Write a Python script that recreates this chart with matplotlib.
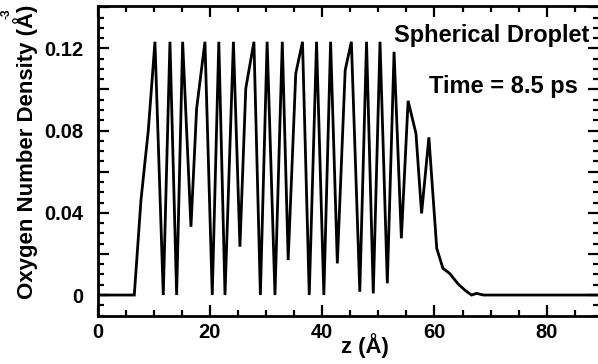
import matplotlib
matplotlib.use("Agg")
import matplotlib.pyplot as plt
from matplotlib.ticker import MultipleLocator, FuncFormatter

plt.rcParams['font.family'] = ['Liberation Sans', 'DejaVu Sans']
plt.rcParams['font.weight'] = 'bold'

z = [0.0, 6.55, 7.74, 9.05, 10.23, 11.71, 12.9, 14.09, 15.16, 16.64, 17.65,
     19.13, 20.43, 21.6, 22.7, 24.2, 25.36, 26.4, 27.85, 29.0, 30.2, 31.6,
     32.9, 33.95, 35.3, 36.5, 37.7, 39.0, 40.3, 41.5, 42.7, 44.1, 45.2,
     46.7, 47.9, 49.1, 50.3, 51.6, 52.8, 54.1, 55.3, 56.7, 57.7, 59.0,
     60.4, 61.5, 62.7, 64.2, 65.4, 66.6, 67.5, 68.7, 90.0]
density = [0.0, 0.0, 0.0462, 0.0803, 0.1232, 0.0, 0.1232, 0.0, 0.1232, 0.0332, 0.0908,
           0.1232, 0.0, 0.1232, 0.0, 0.1232, 0.0235, 0.1005, 0.1232, 0.0, 0.1232, 0.0,
           0.1232, 0.017, 0.1078, 0.1232, 0.0, 0.1232, 0.0, 0.1232, 0.0154, 0.1094, 0.1232,
           0.0016, 0.1232, 0.0008, 0.1232, 0.0057, 0.1183, 0.0276, 0.0945, 0.0786, 0.0397, 0.0767,
           0.0227, 0.013, 0.0105, 0.0054, 0.0024, 0.0, 0.0008, 0.0, 0.0]

xticks = [0, 20, 40, 60, 80]
yticks_labeled = [0, 0.04, 0.08, 0.12]

fig = plt.figure(figsize=(5.98, 3.64), dpi=100)
ax = fig.add_axes([97.5/598, 48/364, 501/598, 310/364])

ax.plot(z, density, color='black', lw=2.0, solid_joinstyle='miter')
ax.set_xlim(0, 89.2)
ax.set_ylim(-0.0102, 0.1406)

ax.set_xticks(xticks)
ax.xaxis.set_minor_locator(MultipleLocator(5))
ax.yaxis.set_major_locator(MultipleLocator(0.02))
ax.yaxis.set_minor_locator(MultipleLocator(0.005))

def yfmt(v, pos):
    for t in yticks_labeled:
        if abs(v - t) < 1e-6:
            return '0' if t == 0 else ('%.2f' % t)
    return ''
ax.yaxis.set_major_formatter(FuncFormatter(yfmt))
ax.xaxis.set_major_formatter(FuncFormatter(lambda v, p: '%d' % v))

ax.tick_params(which='both', direction='in', top=True, right=True, width=1.6,
               labelsize=14.5)
ax.tick_params(axis='x', which='major', pad=5)
ax.tick_params(axis='y', which='major', pad=10)
ax.tick_params(which='major', length=8)
ax.tick_params(which='minor', length=4.5)
for s in ax.spines.values():
    s.set_linewidth(2.0)

ax.text(0.786, 0.905, 'Spherical Droplet', transform=ax.transAxes,
        ha='center', va='center', fontsize=17, fontweight='bold')
ax.text(0.81, 0.74, 'Time = 8.5 ps', transform=ax.transAxes,
        ha='center', va='center', fontsize=17, fontweight='bold')

fig.text(365/598, 1 - 346/364, 'z (Å)', ha='center', va='center',
         fontsize=16, fontweight='bold')
fig.text(26/598, 1 - 152/364, 'Oxygen Number Density (Å)', ha='center',
         va='center', rotation=90, fontsize=16, fontweight='bold')
fig.text(6/598, 1 - 14/364, '-3', ha='center', va='center', rotation=90,
         fontsize=8.5, fontweight='bold')

fig.savefig('out.png', dpi=100)
